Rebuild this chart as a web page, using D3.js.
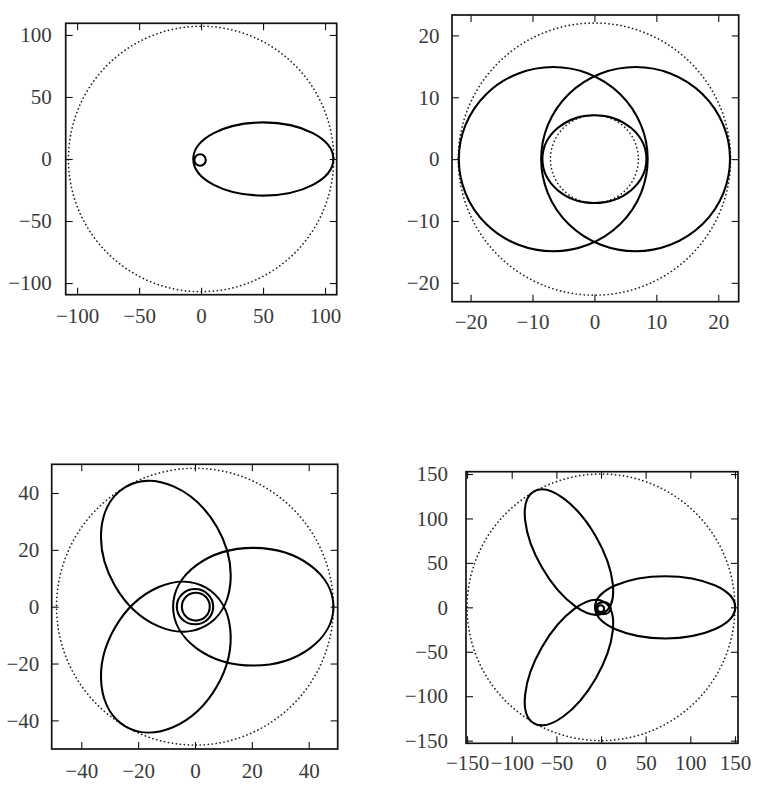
<!DOCTYPE html>
<html>
<head>
<meta charset="utf-8">
<script src="https://cdn.jsdelivr.net/npm/d3@7"></script>
<style>
  body { margin: 0; background: #fff; }
</style>
</head>
<body>
<div id="chart-area"></div>
<script>
/*
*    four orbit panels
*/

// Tick values per panel
var ticks1 = [-100, -50, 0, 50, 100];
var ticks2 = [-20, -10, 0, 10, 20];
var ticks3 = [-40, -20, 0, 20, 40];
var ticks4 = [-150, -100, -50, 0, 50, 100, 150];

// Dotted reference circles (radius), one list per panel
var circles1 = [107];
var circles2 = [22, 7.1];
var circles3 = [48.7];
var circles4 = [150];

// Orbit loops: [cx, cy, rx, ry, angle in degrees]
var loops1 = [
    [50.2, 0, 56.5, 29.5, 0],
    [-0.8, -0.8, 4.6, 4.6, 0]
];
var loops2 = [
    [-6.65, 0, 15.25, 14.9, 0],
    [6.65, 0, 15.25, 14.9, 0],
    [0, 0, 8.4, 7.1, 0]
];
var loops3 = [
    [20.5, 0, 28.2, 20.7, 0],
    [-10.25, 17.75, 28.2, 20.7, 120],
    [-10.25, -17.75, 28.2, 20.7, 240],
    [0, 0, 6.4, 6.2, 0],
    [0.3, 0, 4.9, 4.9, 0]
];
var loops4 = [
    [71.8, 0, 78.5, 35, 0],
    [-35.9, 62.2, 78.5, 35, 120],
    [-35.9, -62.2, 78.5, 35, 240],
    [2.5, -1, 8.5, 6.8, 0],
    [-0.3, -1.5, 3.8, 3.8, 0]
];

// Panel layout (pixels) and axis domains
var panels = [
    { left: 65.7, right: 336.7, top: 23.3, bottom: 294.7,
      xDomain: [-109.2, 109.4], yDomain: [-109.4, 109.4],
      ticks: ticks1, circles: circles1, loops: loops1, xGap: 28, yGap: 14 },
    { left: 452, right: 738.7, top: 15, bottom: 301.7,
      xDomain: [-23.0, 23.3], yDomain: [-23.05, 23.3],
      ticks: ticks2, circles: circles2, loops: loops2, xGap: 27.6, yGap: 12.4 },
    { left: 51.7, right: 337.7, top: 464.3, bottom: 749,
      xDomain: [-50.4, 50.2], yDomain: [-50.07, 50.1],
      ticks: ticks3, circles: circles3, loops: loops3, xGap: 29.3, yGap: 12.4 },
    { left: 466, right: 738, top: 471.7, bottom: 743.3,
      xDomain: [-151.2, 153.4], yDomain: [-153, 152.6],
      ticks: ticks4, circles: circles4, loops: loops4, xGap: 26.7, yGap: 18 }
];

var fontSize = 21,
    tickLen = 7;

var svg = d3.select("#chart-area").append("svg")
    .attr("width", 762)
    .attr("height", 796);

panels.forEach(function(p, i) {
    var x = d3.scaleLinear().domain(p.xDomain).range([p.left, p.right]);
    var y = d3.scaleLinear().domain(p.yDomain).range([p.bottom, p.top]);
    var kx = x(1) - x(0),
        ky = y(0) - y(1);

    var g = svg.append("g");

    g.append("clipPath")
        .attr("id", "clip" + i)
      .append("rect")
        .attr("x", p.left)
        .attr("y", p.top)
        .attr("width", p.right - p.left)
        .attr("height", p.bottom - p.top);

    var plot = g.append("g").attr("clip-path", "url(#clip" + i + ")");

    // dotted circles
    plot.selectAll(".dotted")
        .data(p.circles)
      .enter().append("ellipse")
        .attr("class", "dotted")
        .attr("cx", x(0))
        .attr("cy", y(0))
        .attr("rx", function(d) { return d * kx; })
        .attr("ry", function(d) { return d * ky; })
        .attr("fill", "none")
        .attr("stroke", "#222")
        .attr("stroke-width", 1.7)
        .attr("stroke-linecap", "round")
        .attr("stroke-dasharray", "0.1 3.9");

    // orbit loops
    plot.selectAll(".loop")
        .data(p.loops)
      .enter().append("ellipse")
        .attr("class", "loop")
        .attr("transform", function(d) {
            return "translate(" + x(d[0]) + "," + y(d[1]) + ") rotate(" + (-d[4]) + ")";
        })
        .attr("rx", function(d) { return d[2] * kx; })
        .attr("ry", function(d) { return d[3] * ky; })
        .attr("fill", "none")
        .attr("stroke", "#000")
        .attr("stroke-width", 2.1);

    // axes, ticks pointing inward on all four sides
    var xAxisB = g.append("g")
        .attr("transform", "translate(0," + p.bottom + ")")
        .call(d3.axisBottom(x).tickValues(p.ticks).tickSize(-tickLen)
            .tickPadding(p.xGap - 0.71 * fontSize));
    var xAxisT = g.append("g")
        .attr("transform", "translate(0," + p.top + ")")
        .call(d3.axisTop(x).tickValues(p.ticks).tickSize(-tickLen).tickFormat(""));
    var yAxisL = g.append("g")
        .attr("transform", "translate(" + p.left + ",0)")
        .call(d3.axisLeft(y).tickValues(p.ticks).tickSize(-tickLen)
            .tickPadding(p.yGap));
    var yAxisR = g.append("g")
        .attr("transform", "translate(" + p.right + ",0)")
        .call(d3.axisRight(y).tickValues(p.ticks).tickSize(-tickLen).tickFormat(""));

    [xAxisB, xAxisT, yAxisL, yAxisR].forEach(function(a) {
        a.select(".domain").remove();
        a.selectAll(".tick line").attr("stroke", "#111").attr("stroke-width", 1.1);
        a.selectAll(".tick text")
            .attr("font-family", "'Liberation Serif', 'DejaVu Serif', serif")
            .attr("font-size", fontSize)
            .attr("fill", "#3a3a3a");
    });

    // frame
    g.append("rect")
        .attr("x", p.left)
        .attr("y", p.top)
        .attr("width", p.right - p.left)
        .attr("height", p.bottom - p.top)
        .attr("fill", "none")
        .attr("stroke", "#111")
        .attr("stroke-width", 1.7);
});
</script>
</body>
</html>
